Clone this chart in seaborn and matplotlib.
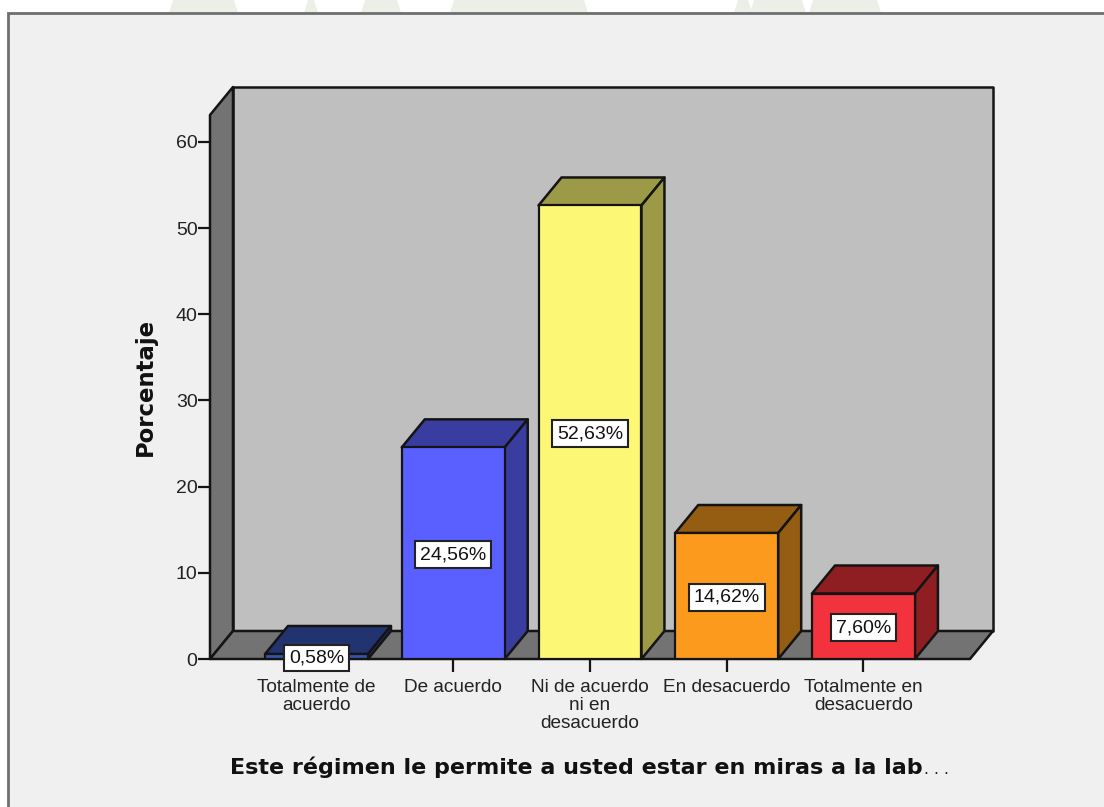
import pandas as pd
import matplotlib.pyplot as plt
from matplotlib.patches import Rectangle, Polygon
import seaborn as sns

# Data
categorias = ["Totalmente de\nacuerdo", "De acuerdo", "Ni de acuerdo\nni en\ndesacuerdo",
              "En desacuerdo", "Totalmente en\ndesacuerdo"]
porcentajes = [0.58, 24.56, 52.63, 14.62, 7.60]
etiquetas = ["0,58%", "24,56%", "52,63%", "14,62%", "7,60%"]
yticks = [0, 10, 20, 30, 40, 50, 60]

colores_frente = ["#3454a8", "#5a60ff", "#fdf776", "#fb9a1c", "#f2333d"]
colores_sombra = ["#22346f", "#393d9f", "#9c9a47", "#945d11", "#8f1e22"]

# Faint scan watermark showing above the panel (x start, x end in pixels)
marca_agua = [(169, 238), (304, 318), (361, 401), (450, 588), (734, 752), (750, 806), (809, 881)]

W, H = 1104, 807
sns.set_theme(style="white")
plt.rcParams['font.family'] = ['Liberation Sans', 'DejaVu Sans']

fig = plt.figure(figsize=(W / 100, H / 100), dpi=100, facecolor="white")

for x0, x1 in marca_agua:
    fig.add_artist(Polygon([(x0 / W, 1 - 13 / H), (x1 / W, 1 - 13 / H), ((x1 - 4) / W, 1), ((x0 + 4) / W, 1)],
                           transform=fig.transFigure, facecolor="#ebefe8", edgecolor="none", zorder=-2))

# Grey panel behind the chart
fig.add_artist(Rectangle((8 / W, -0.01), 1.1, 1.01 - 13 / H, transform=fig.transFigure,
                         facecolor="#f0f0f0", edgecolor="#6e6e6e", linewidth=2, zorder=-1))

# Axes frame: front plane of the 3D box
left, right, top, bottom = 210, 970, 115, 659
ax = fig.add_axes([left / W, 1 - bottom / H, (right - left) / W, (bottom - top) / H])
ax.patch.set_alpha(0)

df = pd.DataFrame({"categoria": categorias, "porcentaje": porcentajes})
sns.barplot(data=df, x="categoria", y="porcentaje", hue="categoria", order=categorias,
            palette=colores_frente, legend=False, width=0.753, saturation=1,
            edgecolor="#141414", linewidth=1.6, zorder=5, ax=ax)

xmin, xmax = -0.779, 4.779
ymin, ymax = 0, 63.13
ax.set_xlim(xmin, xmax)
ax.set_ylim(ymin, ymax)

# depth of the fake 3D, in data units
dx = 0.168
dy = 3.25
borde = dict(edgecolor="#141414", linewidth=1.8, clip_on=False, joinstyle="round")

ax.add_patch(Polygon([(xmin + dx, dy), (xmax + dx, dy), (xmax + dx, ymax + dy), (xmin + dx, ymax + dy)],
                     facecolor="#bfbfbf", zorder=1, **borde))
ax.add_patch(Polygon([(xmin, 0), (xmin + dx, dy), (xmin + dx, ymax + dy), (xmin, ymax)],
                     facecolor="#737373", zorder=2, **borde))
ax.add_patch(Polygon([(xmin, 0), (xmax, 0), (xmax + dx, dy), (xmin + dx, dy)],
                     facecolor="#737373", zorder=2, **borde))

# Top and side faces of each bar, taken from the bars seaborn drew
for bar, sombra, etiqueta in zip(ax.patches[:len(porcentajes)], colores_sombra, etiquetas):
    x0, x1, h = bar.get_x(), bar.get_x() + bar.get_width(), bar.get_height()
    ax.add_patch(Polygon([(x0, h), (x1, h), (x1 + dx, h + dy), (x0 + dx, h + dy)],
                         facecolor=sombra, zorder=4, **borde))
    ax.add_patch(Polygon([(x1, 0), (x1 + dx, dy), (x1 + dx, h + dy), (x1, h)],
                         facecolor=sombra, zorder=4, **borde))
    ax.annotate(etiqueta, ((x0 + x1) / 2, h / 2), xytext=(0, -1), textcoords="offset points",
                ha="center", va="center", fontsize=14, color="#111111", zorder=7,
                bbox=dict(boxstyle="square,pad=0.25", facecolor="white", edgecolor="#222222", linewidth=1.5))

for s in ax.spines.values():
    s.set_visible(False)

ax.set_yticks(yticks)
ax.tick_params(axis="y", left=True, length=9, width=1.6, color="#141414", labelsize=14,
               labelcolor="#222222", pad=0)
ax.tick_params(axis="x", bottom=True, length=9, width=1.6, color="#141414", labelsize=13.7,
               labelcolor="#222222", pad=5.5)
for lab in ax.get_xticklabels():
    lab.set_linespacing(1.08)

ax.set_xlabel("")
ax.set_ylabel("")
fig.text(145 / W, 1 - 387 / H, "Porcentaje", rotation=90, ha="center", va="center",
         family="DejaVu Sans", fontweight="bold", fontsize=16.4, color="#111111")
fig.text(230 / W, 1 - 767 / H, "Este régimen le permite a usted estar en miras a la lab",
         ha="left", va="center", family="DejaVu Sans", fontweight="bold", fontsize=16, color="#111111")
fig.text(924 / W, 1 - 770 / H, ". . .", ha="left", va="center", family="DejaVu Sans",
         fontsize=11.3, color="#222222")

fig.savefig("out.png", dpi=100)
